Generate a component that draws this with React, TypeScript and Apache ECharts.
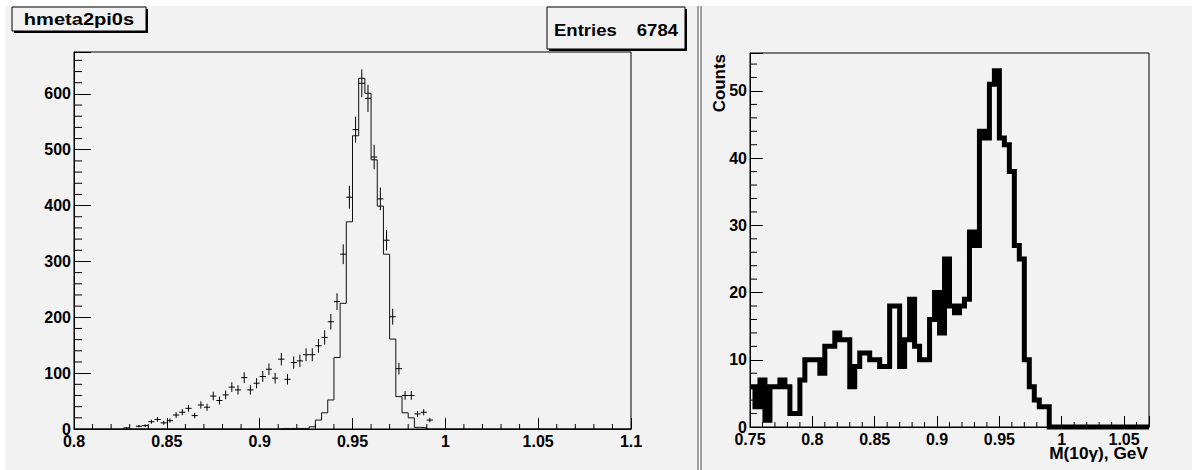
import React, { useEffect, useRef } from "react";
import * as echarts from "echarts";

const W = 1192;
const H = 470;
const PAD_BG = "#f2f2f2";
const FONT = "Liberation Sans, Arial, Helvetica, sans-serif";

// ---------- Left panel: hmeta2pi0s (90 bins, 0.8 - 1.1) ----------
const L_XMIN = 0.8;
const L_XMAX = 1.1;
const L_NBINS = 90;
const L_YMAX = 675;
const L_BW = (L_XMAX - L_XMIN) / L_NBINS;
const dataFirstBin = 8;
const dataCounts = [
  2, 0, 5, 6, 13, 17, 11, 15, 25, 30, 37, 24, 43, 39, 59, 51, 61, 75, 70, 92,
  70, 82, 94, 107, 91, 125, 89, 119, 122, 133, 133, 149, 164, 192, 228, 313,
  415, 536, 619, 592, 487, 412, 338, 201, 108, 60, 60, 27, 30, 16,
];
const mcFirstBin = 33;
const mcCounts = [
  1, 1, 1, 1, 1, 4, 16, 29, 52, 128, 225, 371, 525, 628, 601, 482, 399, 313,
  161, 58, 29, 20, 3, 2,
];
const leftXLabels = ["0.8", "0.85", "0.9", "0.95", "1", "1.05", "1.1"];
const leftYLabels = ["0", "100", "200", "300", "400", "500", "600"];

// ---------- Right panel: M(10γ) (80 bins, 0.75 - 1.07) ----------
const R_XMIN = 0.75;
const R_XMAX = 1.07;
const R_NBINS = 80;
const R_YMAX = 55.65;
const R_BW = (R_XMAX - R_XMIN) / R_NBINS;
const rightCounts = [
  6, 3, 7, 1, 6, 6, 7, 6, 2, 2, 7, 10, 10, 10, 8, 12, 12, 14, 13, 13,
  6, 9, 11, 11, 10, 10, 9, 9, 18, 18, 9, 13, 19, 12, 10, 10, 16, 20, 14, 25,
  18, 17, 18, 19, 29, 27, 44, 43, 51, 53, 43, 42, 38, 27, 25, 10, 6, 4, 3, 3,
  0, 0, 0, 0, 0, 0, 0, 0, 0, 0, 0, 0, 0, 0, 0, 0, 0, 0, 0, 0,
];
const rightXLabels = ["0.75", "0.8", "0.85", "0.9", "0.95", "1", "1.05"];
const rightYLabels = ["0", "10", "20", "30", "40", "50"];

const titleText = "hmeta2pi0s";
const entriesLabel = "Entries";
const entriesValue = "6784";
const yTitleRight = "Counts";
const xTitleRight = "M(10γ), GeV";

function fmt2(v: number) {
  return String(Math.round(v * 100) / 100);
}

function stepPoints(first: number, counts: number[], xmin: number, bw: number, nbins: number) {
  const pts: number[][] = [];
  for (let k = 0; k < nbins; k++) {
    const idx = k - first;
    const v = idx >= 0 && idx < counts.length ? counts[idx] : 0;
    pts.push([xmin + k * bw, v]);
    pts.push([xmin + (k + 1) * bw, v]);
  }
  return pts;
}

function minorList(start: number, stop: number, step: number, skipEvery: number) {
  const out: number[] = [];
  let i = 0;
  for (let v = start; v <= stop + 1e-9; v += step, i++) {
    const n = Math.round(v / step);
    if (n % skipEvery !== 0) out.push(Math.round(v * 1000) / 1000);
  }
  return out;
}

const leftXMinor = minorList(0.81, 1.09, 0.01, 5);
const leftYMinor = minorList(20, 660, 20, 5);
const rightXMinor = minorList(0.76, 1.06, 0.01, 5);
const rightYMinor = minorList(2, 54, 2, 5);

function tickSeries(
  grid: number,
  values: number[],
  dir: "x" | "y",
  base: number,
  len: number
) {
  return {
    type: "custom",
    xAxisIndex: grid,
    yAxisIndex: grid,
    clip: false,
    silent: true,
    z: 4,
    data: values.map((v) => (dir === "x" ? [v, 0] : [base, v])),
    renderItem: (_p: any, api: any) => {
      const c = api.coord([api.value(0), api.value(1)]);
      const shape =
        dir === "x"
          ? { x1: c[0], y1: c[1], x2: c[0], y2: c[1] - len }
          : { x1: c[0], y1: c[1], x2: c[0] + len, y2: c[1] };
      return { type: "line", shape, style: { stroke: "#000", lineWidth: 1 } };
    },
  };
}

const labelStyle = {
  fontFamily: FONT,
  fontWeight: "bold",
  fontSize: 16,
  color: "#000",
};

function boxWithShadow(x: number, y: number, w: number, h: number) {
  return [
    { type: "rect", z: 100, shape: { x: x + 2, y: y + 2, width: w, height: h }, style: { fill: "#000" } },
    { type: "rect", z: 101, shape: { x, y, width: w, height: h }, style: { fill: PAD_BG, stroke: "#000", lineWidth: 1 } },
  ];
}

export default function App() {
  const ref = useRef<HTMLDivElement>(null);
  useEffect(() => {
    document.body.style.margin = "0";
    const chart = echarts.init(ref.current!, undefined, { renderer: "svg", width: W, height: H });

    const axisCommon = {
      type: "value",
      splitLine: { show: false },
      axisLine: { show: true, lineStyle: { color: "#000", width: 1 } },
    };

    const option: any = {
      animation: false,
      backgroundColor: "#ffffff",
      grid: [
        { left: 74, top: 52, width: 557, height: 377, show: true, borderColor: "#000", borderWidth: 1, backgroundColor: "transparent", outerBoundsMode: "none" },
        { left: 750, top: 53, width: 399, height: 374, show: true, borderColor: "#000", borderWidth: 1, backgroundColor: "transparent", outerBoundsMode: "none" },
      ],
      xAxis: [
        {
          ...axisCommon,
          gridIndex: 0,
          min: L_XMIN,
          max: L_XMAX,
          interval: 0.05,
          axisTick: { show: true, inside: true, length: 11, lineStyle: { color: "#000" } },
          axisLabel: { ...labelStyle, margin: 4, formatter: (v: number) => (leftXLabels.includes(fmt2(v)) ? fmt2(v) : "") },
        },
        {
          ...axisCommon,
          gridIndex: 1,
          min: R_XMIN,
          max: R_XMAX,
          interval: 0.05,
          axisTick: { show: true, inside: true, length: 11, lineStyle: { color: "#000" } },
          axisLabel: { ...labelStyle, margin: 4, formatter: (v: number) => (rightXLabels.includes(fmt2(v)) ? fmt2(v) : "") },
        },
      ],
      yAxis: [
        {
          ...axisCommon,
          gridIndex: 0,
          min: 0,
          max: L_YMAX,
          interval: 100,
          axisTick: { show: true, inside: true, length: 17, lineStyle: { color: "#000" } },
          axisLabel: { ...labelStyle, margin: 3, formatter: (v: number) => (leftYLabels.includes(String(Math.round(v))) && Math.abs(v - Math.round(v)) < 1e-6 ? String(Math.round(v)) : "") },
        },
        {
          ...axisCommon,
          gridIndex: 1,
          min: 0,
          max: R_YMAX,
          interval: 10,
          axisTick: { show: true, inside: true, length: 13, lineStyle: { color: "#000" } },
          axisLabel: { ...labelStyle, margin: 3, formatter: (v: number) => (rightYLabels.includes(String(Math.round(v))) && Math.abs(v - Math.round(v)) < 1e-6 ? String(Math.round(v)) : "") },
        },
      ],
      series: [
        {
          type: "line",
          xAxisIndex: 0,
          yAxisIndex: 0,
          symbol: "none",
          clip: false,
          z: 3,
          data: stepPoints(mcFirstBin, mcCounts, L_XMIN, L_BW, L_NBINS),
          lineStyle: { color: "#111", width: 1 },
        },
        {
          type: "custom",
          xAxisIndex: 0,
          yAxisIndex: 0,
          clip: false,
          z: 5,
          data: dataCounts
            .map((v, i) => [L_XMIN + (dataFirstBin + i + 0.5) * L_BW, v])
            .filter((d) => d[1] > 0),
          renderItem: (_p: any, api: any) => {
            const xc = api.value(0);
            const v = api.value(1);
            const e = Math.sqrt(v);
            const pl = api.coord([xc - L_BW / 2, v]);
            const pr = api.coord([xc + L_BW / 2, v]);
            const pt = api.coord([xc, v + e]);
            const pb = api.coord([xc, v - e]);
            return {
              type: "group",
              children: [
                { type: "line", shape: { x1: pl[0], y1: pl[1], x2: pr[0], y2: pr[1] }, style: { stroke: "#000", lineWidth: 1 } },
                { type: "line", shape: { x1: pt[0], y1: pt[1], x2: pb[0], y2: pb[1] }, style: { stroke: "#000", lineWidth: 1 } },
              ],
            };
          },
        },
        {
          type: "line",
          xAxisIndex: 1,
          yAxisIndex: 1,
          symbol: "none",
          clip: false,
          z: 3,
          data: stepPoints(0, rightCounts, R_XMIN, R_BW, R_NBINS),
          lineStyle: { color: "#000", width: 5, join: "miter", cap: "butt" },
        },
        tickSeries(0, leftXMinor, "x", 0, 5),
        tickSeries(0, leftYMinor, "y", L_XMIN, 8),
        tickSeries(1, rightXMinor, "x", 0, 5),
        tickSeries(1, rightYMinor, "y", R_XMIN, 7),
      ],
      graphic: [
        { type: "rect", z: -10, shape: { x: 5, y: 6, width: 692, height: 464 }, style: { fill: PAD_BG } },
        { type: "rect", z: -10, shape: { x: 697, y: 6, width: 2, height: 464 }, style: { fill: "#a0a0a0" } },
        { type: "rect", z: -10, shape: { x: 702, y: 6, width: 490, height: 464 }, style: { fill: PAD_BG } },
        { type: "rect", z: -10, shape: { x: 700, y: 6, width: 2, height: 464 }, style: { fill: "#a0a0a0" } },
        ...boxWithShadow(12, 7, 134, 24),
        {
          type: "text",
          z: 102,
          x: 79,
          y: 19,
          scaleX: 1.18,
          style: { text: titleText, font: `bold 17px ${FONT}`, fill: "#000", align: "center", verticalAlign: "middle" },
        },
        ...boxWithShadow(547, 7, 138, 42),
        {
          type: "text",
          z: 102,
          x: 554,
          y: 30,
          scaleX: 1.09,
          style: { text: entriesLabel, font: `bold 17px ${FONT}`, fill: "#000", align: "left", verticalAlign: "middle" },
        },
        {
          type: "text",
          z: 102,
          x: 678,
          y: 30,
          scaleX: 1.09,
          style: { text: entriesValue, font: `bold 17px ${FONT}`, fill: "#000", align: "right", verticalAlign: "middle" },
        },
        {
          type: "text",
          z: 102,
          x: 719,
          y: 54,
          rotation: Math.PI / 2,
          scaleX: 1.06,
          style: { text: yTitleRight, font: `bold 16px ${FONT}`, fill: "#000", align: "right", verticalAlign: "middle" },
        },
        {
          type: "text",
          z: 102,
          x: 1148,
          y: 454,
          scaleX: 1.08,
          style: { text: xTitleRight, font: `bold 16px ${FONT}`, fill: "#000", align: "right", verticalAlign: "middle" },
        },
      ],
    };

    chart.setOption(option);
    return () => chart.dispose();
  }, []);

  return <div ref={ref} style={{ position: "absolute", left: 0, top: 0, width: W, height: H }} />;
}
